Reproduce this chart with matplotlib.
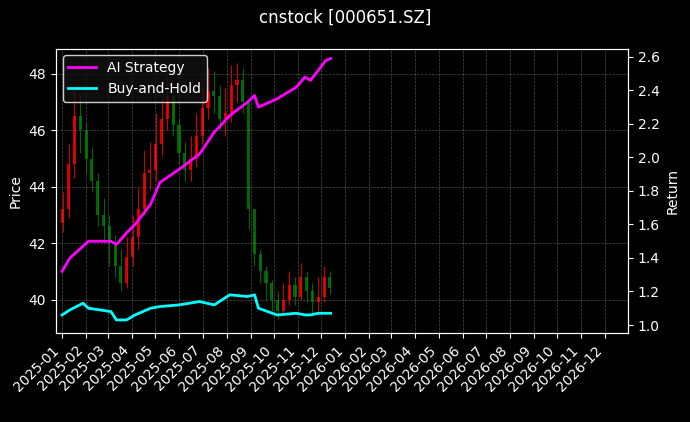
import matplotlib
matplotlib.use("Agg")
import matplotlib.pyplot as plt
import matplotlib.dates as mdates
import pandas as pd
import numpy as np

# weekly candles (open, high, low, close)
first_day = "2025-01-02"
last_day = "2025-12-12"
opens  = [42.7, 43.2, 44.8, 46.5, 46.0, 45.0, 44.2, 43.0, 42.6, 42.0, 41.2, 40.6,
          41.5, 42.2, 43.2, 44.5, 44.6, 45.5, 46.4, 47.2, 46.2, 45.2, 44.6, 45.0,
          45.8, 46.8, 47.4, 47.2, 46.4, 46.6, 47.6, 47.8, 47.0, 43.2, 41.6, 41.0,
          40.6, 40.0, 39.6, 40.0, 40.5, 40.1, 40.8, 40.3, 39.9, 40.1, 40.8]
closes = [43.2, 44.8, 46.5, 46.0, 45.0, 44.2, 43.0, 42.6, 42.0, 41.2, 40.6, 41.5,
          42.2, 43.2, 44.5, 44.6, 45.5, 46.4, 47.2, 46.2, 45.2, 44.6, 45.0, 45.8,
          46.8, 47.4, 47.2, 46.4, 46.6, 47.6, 47.8, 47.0, 43.2, 41.6, 41.0, 40.6,
          40.0, 39.6, 40.0, 40.5, 40.1, 40.8, 40.3, 39.9, 40.1, 40.8, 40.4]
highs  = [43.8, 45.5, 47.6, 47.2, 46.3, 45.4, 44.5, 43.6, 43.0, 42.3, 41.8, 42.2,
          43.0, 44.0, 45.3, 45.6, 46.6, 47.2, 48.0, 47.3, 46.4, 45.6, 45.8, 46.6,
          47.6, 48.2, 48.1, 47.6, 47.5, 48.3, 48.4, 48.2, 43.4, 42.4, 41.8, 41.2,
          40.7, 40.3, 40.6, 41.0, 40.8, 41.3, 41.0, 40.6, 40.8, 41.2, 41.0]
lows   = [42.4, 42.9, 44.3, 45.2, 44.5, 43.8, 42.6, 42.0, 41.2, 40.8, 40.3, 40.4,
          41.2, 41.8, 43.0, 43.9, 44.2, 45.1, 46.0, 45.8, 44.8, 44.2, 44.2, 44.7,
          45.5, 46.4, 46.6, 46.0, 45.8, 46.3, 47.0, 46.6, 42.5, 41.2, 40.6, 40.0,
          39.6, 39.3, 39.4, 39.8, 39.8, 40.0, 39.9, 39.5, 39.6, 39.9, 40.2]

ret_dates = ["2025-01-01", "2025-01-11", "2025-01-28", "2025-02-04", "2025-03-05",
             "2025-03-12", "2025-03-25", "2025-04-05", "2025-04-25", "2025-05-07",
             "2025-06-01", "2025-06-27", "2025-07-16", "2025-08-05", "2025-08-28",
             "2025-09-06", "2025-09-11", "2025-10-05", "2025-10-30", "2025-11-10",
             "2025-11-17", "2025-11-27", "2025-12-07", "2025-12-13"]
ai_ret = [1.32, 1.40, 1.47, 1.50, 1.50, 1.48, 1.55, 1.60, 1.72, 1.85,
          1.93, 2.02, 2.15, 2.25, 2.33, 2.37, 2.30, 2.35, 2.42, 2.48,
          2.46, 2.52, 2.58, 2.59]
bh_ret = [1.06, 1.09, 1.13, 1.10, 1.08, 1.03, 1.03, 1.06, 1.10, 1.11,
          1.12, 1.14, 1.12, 1.18, 1.17, 1.18, 1.10, 1.06, 1.07, 1.06,
          1.06, 1.07, 1.07, 1.07]

plt.style.use("dark_background")
fig, ax = plt.subplots(figsize=(6.9, 4.22), dpi=100)
fig.patch.set_facecolor("black")
ax.set_facecolor("black")

days = pd.date_range(first_day, last_day, periods=len(opens))
for d, o, h, l, c in zip(days, opens, highs, lows, closes):
    col = "red" if c >= o else "green"
    x = mdates.date2num(d)
    ax.vlines(x, l, h, color=col, linewidth=0.8, alpha=0.8)
    ax.bar(x, abs(c - o), bottom=min(o, c), width=4, color=col, alpha=0.8)

ax.set_ylabel("Price")
ax.grid(True, color="gray", linestyle="--", linewidth=0.5, alpha=0.6)

ax2 = ax.twinx()
rd = pd.to_datetime(ret_dates)
ax2.plot(rd, ai_ret, color="magenta", linewidth=2, label="AI Strategy")
ax2.plot(rd, bh_ret, color="cyan", linewidth=2, label="Buy-and-Hold")
ax2.set_ylabel("Return")
ax2.set_ylim(0.95, 2.65)
ax.set_ylim(38.8, 48.9)
ax2.legend(loc="upper left", facecolor="#111111", edgecolor="white")

ax.set_xlim(mdates.date2num(pd.Timestamp("2024-12-24")), mdates.date2num(pd.Timestamp("2026-12-31")))
ax.xaxis.set_major_locator(mdates.MonthLocator())
ax.xaxis.set_major_formatter(mdates.DateFormatter("%Y-%m"))
plt.setp(ax.get_xticklabels(), rotation=45, ha="right")

fig.suptitle("cnstock [000651.SZ]")
fig.subplots_adjust(left=0.081, right=0.91, top=0.885, bottom=0.21)
fig.savefig("out.png", dpi=100)
